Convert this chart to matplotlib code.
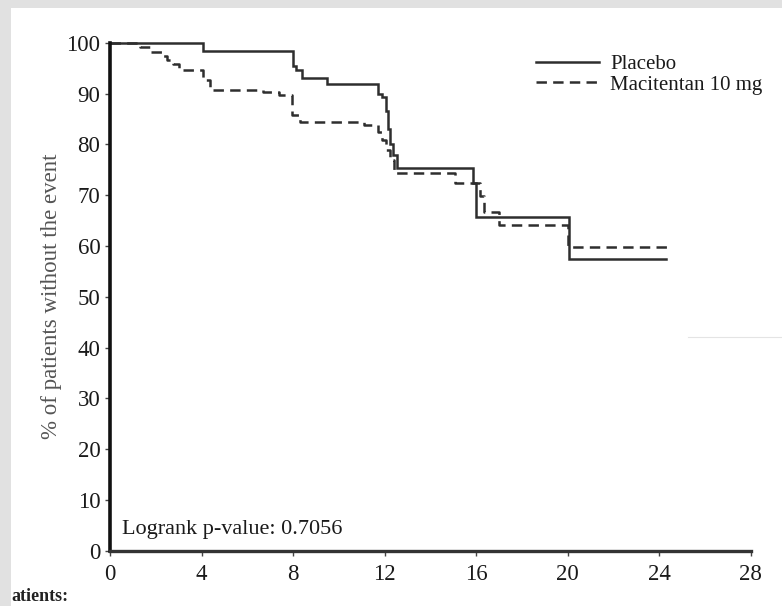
import matplotlib
matplotlib.use("Agg")
import matplotlib.pyplot as plt
from matplotlib.patches import Rectangle
from matplotlib.lines import Line2D

plt.rcParams['font.family'] = ['Liberation Serif', 'DejaVu Serif']
plt.rcParams['lines.scale_dashes'] = False

# Kaplan-Meier step data (months, % without event)
placebo_t = [0, 4.05, 7.98, 8.15, 8.4, 9.5, 11.72, 11.9, 12.05, 12.15, 12.25, 12.35, 12.55, 15.88, 16.0, 20.05, 24.3]
placebo_v = [100, 98.3, 95.4, 94.6, 93.1, 91.8, 90.0, 89.3, 86.5, 83.0, 80.0, 77.8, 75.3, 72.3, 65.7, 57.5, 57.5]

macit_t = [0, 1.31, 1.75, 2.26, 2.5, 2.75, 3.0, 4.05, 4.37, 6.67, 7.4, 7.94, 8.3, 11.1, 11.7, 11.9, 12.05, 12.25, 12.4, 15.08, 16.17, 16.36, 17.0, 20.03, 24.5]
macit_v = [100, 99.1, 98.2, 97.3, 96.5, 95.9, 94.6, 92.7, 90.7, 90.2, 89.8, 85.8, 84.4, 83.8, 82.5, 80.8, 78.9, 76.9, 74.3, 72.3, 69.8, 66.7, 64.1, 59.8, 59.8]

x_ticks = [0, 4, 8, 12, 16, 20, 24, 28]
y_ticks = [0, 10, 20, 30, 40, 50, 60, 70, 80, 90, 100]
series_labels = ['Placebo', 'Macitentan 10 mg']
ylabel = '% of patients without the event'
pvalue_text = 'Logrank p-value: 0.7056'

W, H = 782, 606
fig = plt.figure(figsize=(W / 100, H / 100), dpi=100)
fig.patch.set_facecolor('#e1e1e1')
fig.add_artist(Rectangle((11 / W, 0), 1 - 11 / W, (H - 8) / H, transform=fig.transFigure,
                         facecolor='white', edgecolor='none', zorder=0))
# faint artefact line at right
fig.add_artist(Line2D([688 / W, 1], [1 - 337 / H, 1 - 337 / H], transform=fig.transFigure,
                      color='#e4e4e4', lw=0.8, zorder=0.5))

left, right = 110 / W, 750.7 / W
bottom, top = 1 - 550.7 / H, 1 - 42.7 / H
ax = fig.add_axes([left, bottom, right - left, top - bottom])
ax.set_facecolor('none')

ax.step(placebo_t, placebo_v, where='post', color='#2e2e2e', lw=1.8, clip_on=False,
        label=series_labels[0], solid_joinstyle='miter')
ax.step(macit_t, macit_v, where='post', color='#2e2e2e', lw=1.8, clip_on=False,
        dashes=(7.5, 4.5), label=series_labels[1])

ax.set_xlim(0, 28)
ax.set_ylim(0, 100)
ax.set_xticks(x_ticks)
ax.set_yticks(y_ticks)
ax.set_xticklabels([str(t) for t in x_ticks])
ax.set_yticklabels([str(t) for t in y_ticks])

for s in ['top', 'right']:
    ax.spines[s].set_visible(False)
ax.spines['left'].set_linewidth(2.6)
ax.spines['left'].set_color('#111111')
ax.spines['bottom'].set_linewidth(2.4)
ax.spines['bottom'].set_color('#333333')

ax.tick_params(axis='both', direction='out', length=3.5, width=1.0, color='#444444',
               labelsize=16.5, labelcolor='#1a1a1a')
ax.tick_params(axis='y', pad=3.5)
ax.tick_params(axis='x', pad=6)

ax.set_ylabel(ylabel, fontsize=16.5, color='#555555', labelpad=3)

ax.text(0.018, 0.041, pvalue_text, transform=ax.transAxes, fontsize=16,
        color='#1a1a1a', va='center', ha='left')

leg = ax.legend(loc='upper left', bbox_to_anchor=(526 / W, 1 - 44 / H),
                bbox_transform=fig.transFigure, frameon=False, fontsize=15,
                handlelength=3.0, handletextpad=0.55, borderpad=0, labelspacing=0.05)
for txt in leg.get_texts():
    txt.set_color('#1a1a1a')

fig.text(11 / W, 1 / H, 'atients:', fontsize=13, fontweight='bold', color='#222222',
         va='bottom', ha='left')

fig.savefig('out.png', dpi=100, facecolor=fig.get_facecolor())
